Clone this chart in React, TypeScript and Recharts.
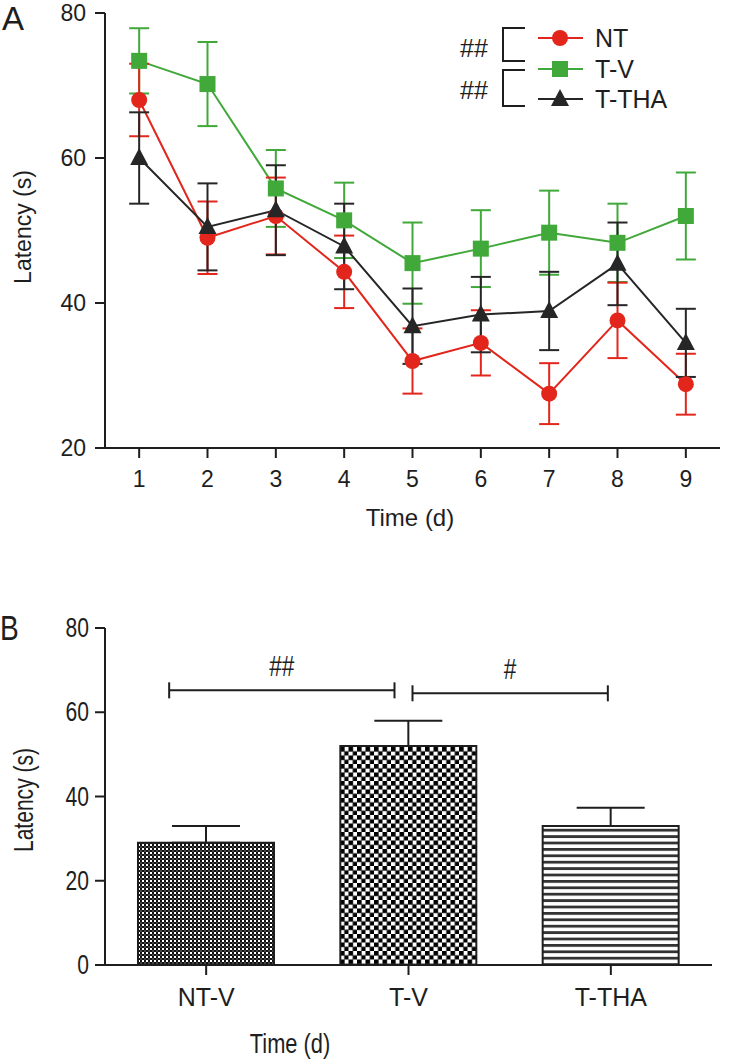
import React from "react";
import {
  ComposedChart,
  Line,
  XAxis,
  YAxis,
  ErrorBar,
  BarChart,
  Bar,
  Cell,
  ReferenceLine,
} from "recharts";

// ---- panel A: daily latency ----
const days = [1, 2, 3, 4, 5, 6, 7, 8, 9];
const ntMean = [68, 49, 52, 44.3, 32, 34.5, 27.5, 37.6, 28.8];
const ntSem = [5, 5, 5.3, 5, 4.5, 4.5, 4.2, 5.2, 4.2];
const tvMean = [73.4, 70.2, 55.8, 51.4, 45.5, 47.5, 49.7, 48.3, 52];
const tvSem = [4.5, 5.8, 5.3, 5.2, 5.6, 5.3, 5.8, 5.4, 6];
const thaMean = [60, 50.5, 52.8, 47.8, 36.8, 38.4, 38.9, 45.4, 34.5];
const thaSem = [6.3, 6, 6.2, 5.9, 5.2, 5.2, 5.4, 5.7, 4.7];
const yTicksA = [20, 40, 60, 80];

// ---- panel B: day 9 ----
const groups = ["NT-V", "T-V", "T-THA"];
const groupMean = [29, 52, 33];
const groupSem = [4, 6, 4.3];
const yTicksB = [0, 20, 40, 60, 80];
const brackets = [
  { from: "NT-V", to: "T-V", y: 65.2, label: "##", dx1: -37, dx2: -14 },
  { from: "T-V", to: "T-THA", y: 64.5, label: "#", dx1: 4, dx2: -3 },
];

const RED = "#e2261c";
const GREEN = "#41a83a";
const BLACK = "#262626";
const AXIS = "#1e1e1e";
const SANS = "'Liberation Sans', Arial, sans-serif";
const NARROW_SCALE = 0.78;

const lineData = days.map((d, i) => ({
  day: d,
  nt: ntMean[i],
  ntErr: ntSem[i],
  tv: tvMean[i],
  tvErr: tvSem[i],
  tha: thaMean[i],
  thaErr: thaSem[i],
}));

const barData = groups.map((g, i) => ({
  group: g,
  mean: groupMean[i],
  err: [0, groupSem[i]],
}));

const barFills = ["url(#finechk)", "url(#bigchk)", "url(#stripes)"];

/* eslint-disable @typescript-eslint/no-explicit-any */
const circleDot = (p: any) => (
  <circle key={`c${p.index}`} cx={p.cx} cy={p.cy} r={8} fill={RED} />
);
const squareDot = (p: any) => (
  <rect key={`s${p.index}`} x={p.cx - 8} y={p.cy - 8} width={16} height={16} fill={GREEN} />
);
const triDot = (p: any) => (
  <path
    key={`t${p.index}`}
    d={`M${p.cx},${p.cy - 10} L${p.cx + 9},${p.cy + 7} L${p.cx - 9},${p.cy + 7} Z`}
    fill={BLACK}
  />
);

const series = [
  { key: "tv", name: "T-V", color: GREEN, dot: squareDot },
  { key: "nt", name: "NT", color: RED, dot: circleDot },
  { key: "tha", name: "T-THA", color: BLACK, dot: triDot },
];
const legendOrder = ["NT", "T-V", "T-THA"];

// condensed-looking text (panel B uses a narrow face)
function NarrowText({ x, y, size, anchor = "middle", rotate = 0, bold = false, children }: any) {
  return (
    <text
      transform={`translate(${x},${y}) rotate(${rotate}) scale(${NARROW_SCALE},1)`}
      fontSize={size}
      fontFamily={SANS}
      fontWeight={bold ? 700 : 400}
      fill={AXIS}
      textAnchor={anchor}
    >
      {children}
    </text>
  );
}

const narrowYTick = (p: any) => (
  <g>
    <text
      transform={`translate(${p.x},${p.y + 9}) scale(${NARROW_SCALE},1)`}
      fontSize={27}
      fontFamily={SANS}
      fill={AXIS}
      textAnchor="end"
    >
      {p.payload.value}
    </text>
  </g>
);

function bracketShape(b: (typeof brackets)[number]) {
  return (p: any) => {
    const x1 = p.x1 + b.dx1;
    const x2 = p.x2 + b.dx2;
    const y = p.y1;
    return (
      <g>
        <line x1={x1} y1={y} x2={x2} y2={y} stroke={AXIS} strokeWidth={2} />
        <line x1={x1} y1={y - 8} x2={x1} y2={y + 8} stroke={AXIS} strokeWidth={2} />
        <line x1={x2} y1={y - 8} x2={x2} y2={y + 8} stroke={AXIS} strokeWidth={2} />
        <NarrowText x={(x1 + x2) / 2} y={y - 14} size={29}>
          {b.label}
        </NarrowText>
      </g>
    );
  };
}

function LegendMark({ name, x, y }: { name: string; x: number; y: number }) {
  const s = series.find((v) => v.name === name)!;
  return (
    <g>
      <line x1={x - 22} y1={y} x2={x + 23} y2={y} stroke={s.color} strokeWidth={2} />
      {s.dot({ cx: x, cy: y, index: name })}
      <text x={x + 35} y={y + 9} fontSize={25} fontFamily={SANS} fill={AXIS}>
        {name}
      </text>
    </g>
  );
}

export default function App() {
  return (
    <div style={{ position: "absolute", left: 0, top: 0, width: 729, height: 1062, background: "#fff" }}>
      {/* patterns for the bars */}
      <svg width={0} height={0} style={{ position: "absolute" }}>
        <defs>
          <pattern id="finechk" patternUnits="userSpaceOnUse" width={4} height={4}>
            <rect width={4} height={4} fill="#fff" />
            <rect x={0} y={0} width={2} height={2} fill="#111" />
            <rect x={2} y={2} width={2} height={2} fill="#111" />
            <rect x={0} y={2} width={2} height={2} fill="#444" />
          </pattern>
          <pattern id="bigchk" patternUnits="userSpaceOnUse" width={8.5} height={8.5}>
            <rect width={8.5} height={8.5} fill="#fff" />
            <rect x={0} y={0} width={4.6} height={4.6} fill="#000" />
            <rect x={4.25} y={4.25} width={4.6} height={4.6} fill="#000" />
          </pattern>
          <pattern id="stripes" patternUnits="userSpaceOnUse" width={10} height={6.4}>
            <rect width={10} height={6.4} fill="#fff" />
            <rect x={0} y={0} width={10} height={2.8} fill="#333" />
          </pattern>
        </defs>
      </svg>

      {/* Panel A */}
      <div style={{ position: "absolute", left: 0, top: 0 }}>
        <ComposedChart
          width={729}
          height={530}
          data={lineData}
          margin={{ top: 13, right: 9, bottom: 42, left: 0 }}
        >
          <XAxis
            dataKey="day"
            type="number"
            domain={[0.5, 9.5]}
            ticks={days}
            height={40}
            tickSize={10}
            tickMargin={13}
            axisLine={{ stroke: AXIS, strokeWidth: 2 }}
            tickLine={{ stroke: AXIS, strokeWidth: 2 }}
            tick={{ fontSize: 23, fill: AXIS, fontFamily: SANS }}
          />
          <YAxis
            type="number"
            domain={[20, 80]}
            ticks={yTicksA}
            width={105}
            tickSize={10}
            tickMargin={9}
            axisLine={{ stroke: AXIS, strokeWidth: 2 }}
            tickLine={{ stroke: AXIS, strokeWidth: 2 }}
            tick={{ fontSize: 23, fill: AXIS, fontFamily: SANS }}
          />
          {series.map((s) => (
            <Line
              key={s.key}
              dataKey={s.key}
              stroke={s.color}
              strokeWidth={2}
              dot={s.dot}
              activeDot={false}
              isAnimationActive={false}
            >
              <ErrorBar
                dataKey={`${s.key}Err`}
                direction="y"
                width={10}
                stroke={s.color}
                strokeWidth={2}
                isAnimationActive={false}
              />
            </Line>
          ))}
        </ComposedChart>
      </div>

      {/* Panel B */}
      <div style={{ position: "absolute", left: 0, top: 560 }}>
        <BarChart
          width={729}
          height={502}
          data={barData}
          margin={{ top: 68, right: 17, bottom: 57, left: 0 }}
        >
          <XAxis
            dataKey="group"
            height={40}
            tickSize={10}
            tickMargin={13}
            axisLine={{ stroke: AXIS, strokeWidth: 2 }}
            tickLine={{ stroke: AXIS, strokeWidth: 2 }}
            tick={{ fontSize: 25, fill: AXIS, fontFamily: SANS }}
          />
          <YAxis
            type="number"
            domain={[0, 80]}
            ticks={yTicksB}
            width={105}
            tickSize={10}
            tickMargin={6}
            axisLine={{ stroke: AXIS, strokeWidth: 2 }}
            tickLine={{ stroke: AXIS, strokeWidth: 2 }}
            tick={narrowYTick}
          />
          <Bar
            dataKey="mean"
            barSize={136}
            stroke={AXIS}
            strokeWidth={2}
            isAnimationActive={false}
          >
            {barData.map((d, i) => (
              <Cell key={d.group} fill={barFills[i]} />
            ))}
            <ErrorBar
              dataKey="err"
              direction="y"
              width={34}
              stroke={AXIS}
              strokeWidth={2}
              isAnimationActive={false}
            />
          </Bar>
          {brackets.map((b) => (
            <ReferenceLine
              key={b.label}
              segment={[
                { x: b.from, y: b.y },
                { x: b.to, y: b.y },
              ]}
              shape={bracketShape(b)}
            />
          ))}
        </BarChart>
      </div>

      {/* titles, panel letters and legend */}
      <svg
        width={729}
        height={1062}
        style={{ position: "absolute", left: 0, top: 0, pointerEvents: "none" }}
      >
        <text x={2} y={30} fontSize={33} fontFamily={SANS} fill={AXIS}>
          A
        </text>
        <text
          x={31}
          y={227}
          fontSize={23}
          fontFamily={SANS}
          fill={AXIS}
          textAnchor="middle"
          transform="rotate(-90 31 227)"
        >
          Latency (s)
        </text>
        <text x={410} y={526} fontSize={24} fontFamily={SANS} fill={AXIS} textAnchor="middle">
          Time (d)
        </text>

        {/* legend with significance brackets */}
        <text x={474} y={57} fontSize={25} fontFamily={SANS} fill={AXIS} textAnchor="middle">
          ##
        </text>
        <text x={474} y={99} fontSize={25} fontFamily={SANS} fill={AXIS} textAnchor="middle">
          ##
        </text>
        <path d="M525,28 L503,28 L503,61 L525,61" fill="none" stroke={AXIS} strokeWidth={2} />
        <path d="M525,70 L503,70 L503,106 L525,106" fill="none" stroke={AXIS} strokeWidth={2} />
        {legendOrder.map((n, i) => (
          <LegendMark key={n} name={n} x={560} y={[38, 69, 99][i]} />
        ))}

        <NarrowText x={0} y={640} size={36} anchor="start">
          B
        </NarrowText>
        <NarrowText x={33} y={800} size={27} rotate={-90}>
          Latency (s)
        </NarrowText>
        <NarrowText x={290} y={1053} size={28}>
          Time (d)
        </NarrowText>
      </svg>
    </div>
  );
}
